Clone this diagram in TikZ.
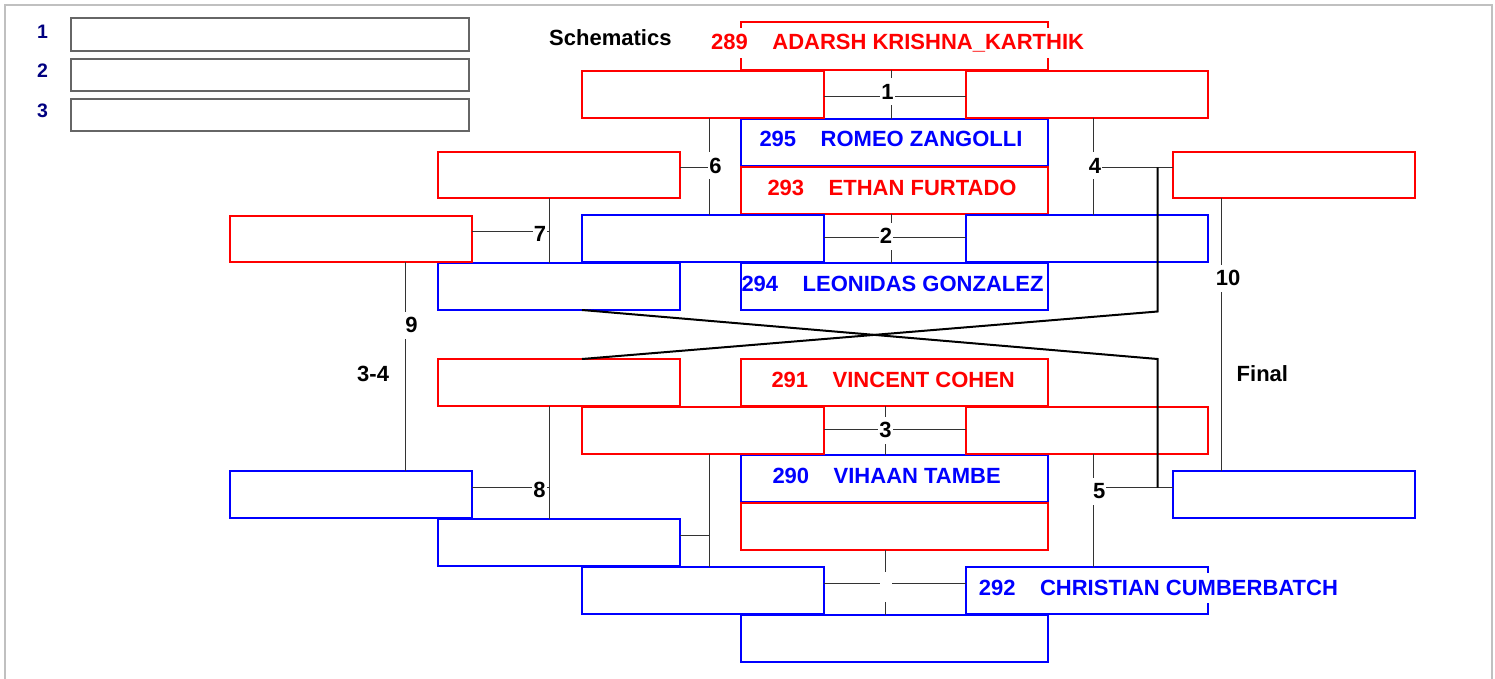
\documentclass[tikz,border=0pt]{standalone}
\usepackage{fontspec}
\setmainfont{Liberation Sans}
\definecolor{cred}{RGB}{255,0,0}
\definecolor{cblue}{RGB}{0,0,255}
\definecolor{navy}{RGB}{0,0,128}
\definecolor{lgray}{RGB}{102,102,102}
\definecolor{framegray}{RGB}{192,192,192}
\begin{document}
\begin{tikzpicture}[x=1pt,y=-1pt,
  box/.style={draw, line width=1.6pt, inner sep=0pt, outer sep=0pt},
  rbox/.style={box, draw=cred},
  bbox/.style={box, draw=cblue},
  cbox/.style={minimum width=307pt, minimum height=47pt},
  pbox/.style={minimum width=242pt, minimum height=47pt},
  gbox/.style={box, draw=lgray, minimum width=398pt, minimum height=32pt},
  plname/.style={anchor=base west, fill=white, inner xsep=0pt, inner ysep=1.5pt, text height=20.5pt, text depth=6.5pt, font=\fontsize{22}{26}\selectfont\bfseries},
  lbl/.style={fill=white, inner xsep=1pt, inner ysep=0pt, minimum height=27pt, font=\fontsize{22}{26}\selectfont\bfseries},
  txt/.style={anchor=base west, inner sep=0pt, font=\fontsize{22}{26}\selectfont\bfseries},
  legnum/.style={anchor=base, inner sep=0pt, text=navy, font=\fontsize{19.5}{23}\selectfont\bfseries},
  conn/.style={draw=black!80, line width=1pt},
  drop/.style={draw=black, line width=2pt}
]
\useasboundingbox (0,0) rectangle (1495,679);
\draw[framegray, line width=2pt] (5,679) |- (1492,5) -- (1492,679);

% legend
\node[gbox,minimum height=33pt] (g1) at (270,34.5) {};
\node[gbox] (g2) at (270,75) {};
\node[gbox] (g3) at (270,115) {};
\node[legnum] (n1) at (42.5,38.3) {1};
\node[legnum] (n2) at (42.5,77.8) {2};
\node[legnum] (n3) at (42.5,117.8) {3};

% centre column
\node[rbox,cbox,minimum height=48pt] (c289) at (894.5,46) {};
\node[bbox,cbox] (c295) at (894.5,142.5) {};
\node[rbox,cbox] (c293) at (894.5,190.5) {};
\node[bbox,cbox] (c294) at (894.5,286.5) {};
\node[rbox,cbox] (c291) at (894.5,382.5) {};
\node[bbox,cbox] (c290) at (894.5,478.5) {};
\node[rbox,cbox] (cr) at (894.5,526.5) {};
\node[bbox,cbox] (cb) at (894.5,638.5) {};

% pairs
\node[rbox,pbox] (p1l) at (703,94.5) {};
\node[rbox,pbox] (p1r) at (1087,94.5) {};
\node[bbox,pbox] (p2l) at (703,238.5) {};
\node[bbox,pbox] (p2r) at (1087,238.5) {};
\node[rbox,pbox] (p3l) at (703,430.5) {};
\node[rbox,pbox] (p3r) at (1087,430.5) {};
\node[bbox,pbox] (p4l) at (703,590.5) {};
\node[bbox,pbox] (p4r) at (1087,590.5) {};

% outer
\node[rbox,pbox,minimum height=46pt] (l1) at (559,175) {};
\node[bbox,pbox] (l2) at (559,286.5) {};
\node[rbox,pbox] (l3) at (559,382.5) {};
\node[bbox,pbox] (l4) at (559,542.5) {};
\node[rbox,pbox,minimum height=46pt] (f1) at (351,239) {};
\node[bbox,pbox] (f2) at (351,494.5) {};
\node[rbox,pbox,minimum height=46pt] (r1) at (1294,175) {};
\node[bbox,pbox] (r2) at (1294,494.5) {};

% helper coordinates
\coordinate (vA) at (891,0);
\coordinate (vB) at (885.5,0);
\coordinate (vC) at (709.5,0);
\coordinate (vD) at (1093.3,0);
\coordinate (vE) at (549.3,0);
\coordinate (vF) at (405.9,0);
\coordinate (vG) at (1221,0);
\coordinate (vH) at (1157.6,0);
\coordinate (h1) at (0,97);
\coordinate (h2) at (0,237.7);
\coordinate (h3) at (0,429.3);
\coordinate (h4) at (0,583.7);
\coordinate (h6) at (0,167.5);
\coordinate (h7) at (0,231);
\coordinate (h8) at (0,487.5);
\coordinate (h11) at (0,535.5);

% connectors
\draw[conn] (p1l.east |- h1) -- (p1r.west |- h1);
\draw[conn] (vA |- c289.south) -- (vA |- c295.north);
\draw[conn] (p2l.east |- h2) -- (p2r.west |- h2);
\draw[conn] (vA |- c293.south) -- (vA |- c294.north);
\draw[conn] (p3l.east |- h3) -- (p3r.west |- h3);
\draw[conn] (vB |- c291.south) -- (vB |- c290.north);
\draw[conn] (p4l.east |- h4) -- (p4r.west |- h4);
\draw[conn] (vB |- cr.south) -- (vB |- cb.north);
\draw[conn] (l1.east |- h6) -- (vC |- h6);
\draw[conn] (vC |- p1l.south) -- (vC |- p2l.north);
\draw[conn] (vD |- h6) -- (r1.west |- h6);
\draw[conn] (vD |- p1r.south) -- (vD |- p2r.north);
\draw[conn] (f1.east |- h7) -- (vE |- h7);
\draw[conn] (vE |- l1.south) -- (vE |- l2.north);
\draw[conn] (f2.east |- h8) -- (vE |- h8);
\draw[conn] (vE |- l3.south) -- (vE |- l4.north);
\draw[conn] (l4.east |- h11) -- (vC |- h11);
\draw[conn] (vC |- p3l.south) -- (vC |- p4l.north);
\draw[conn] (vD |- h8) -- (r2.west |- h8);
\draw[conn] (vD |- p3r.south) -- (vD |- p4r.north);
\draw[conn] (vF |- f1.south) -- (vF |- f2.north);
\draw[conn] (vG |- r1.south) -- (vG |- r2.north);

% drop lines
\draw[drop] (vH |- h6) -- ([yshift=-1.5pt]vH |- l2.south) -- (p3l.west |- l3.north);
\draw[drop] (p2l.west |- l2.south) -- (vH |- l3.north) -- (vH |- h8);

% match labels
\node[lbl] (m1) at (887.5,91.5) {1};
\node[lbl] (m2) at (886,236) {2};
\node[lbl] (m3) at (885.5,430) {3};
\node[lbl, minimum width=12pt, minimum height=30pt] (m12) at (886.2,587) {};
\node[lbl] (m6) at (715.5,165.8) {6};
\node[lbl] (m4) at (1095,165.8) {4};
\node[lbl] (m7) at (540,234.3) {7};
\node[lbl] (m8) at (539.6,490) {8};
\node[lbl] (m5) at (1099.3,491) {5};
\node[lbl] (m9) at (411.6,325) {9};
\node[lbl] (m10) at (1228,278.3) {10};

% texts
\node[txt] (sch) at (549,46) {Schematics};
\node[txt] (t34) at (357,381.7) {3-4};
\node[txt] (fin) at (1236.5,381.7) {Final};

% player names
\node[plname, text=cred] (t289) at (711,50) {289\hspace{24.5pt}ADARSH KRISHNA\_KARTHIK};
\node[plname, text=cblue] (t295) at (759.3,147) {295\hspace{24.5pt}ROMEO ZANGOLLI};
\node[plname, text=cred] (t293) at (767.3,195) {293\hspace{24.5pt}ETHAN FURTADO};
\node[plname, text=cblue] (t294) at (741.3,291) {294\hspace{24.5pt}LEONIDAS GONZALEZ};
\node[plname, text=cred] (t291) at (771.3,387) {291\hspace{24.5pt}VINCENT COHEN};
\node[plname, text=cblue] (t290) at (772.3,483) {290\hspace{24.5pt}VIHAAN TAMBE};
\node[plname, text=cblue] (t292) at (978.7,595) {292\hspace{24.5pt}CHRISTIAN CUMBERBATCH};
\end{tikzpicture}
\end{document}
